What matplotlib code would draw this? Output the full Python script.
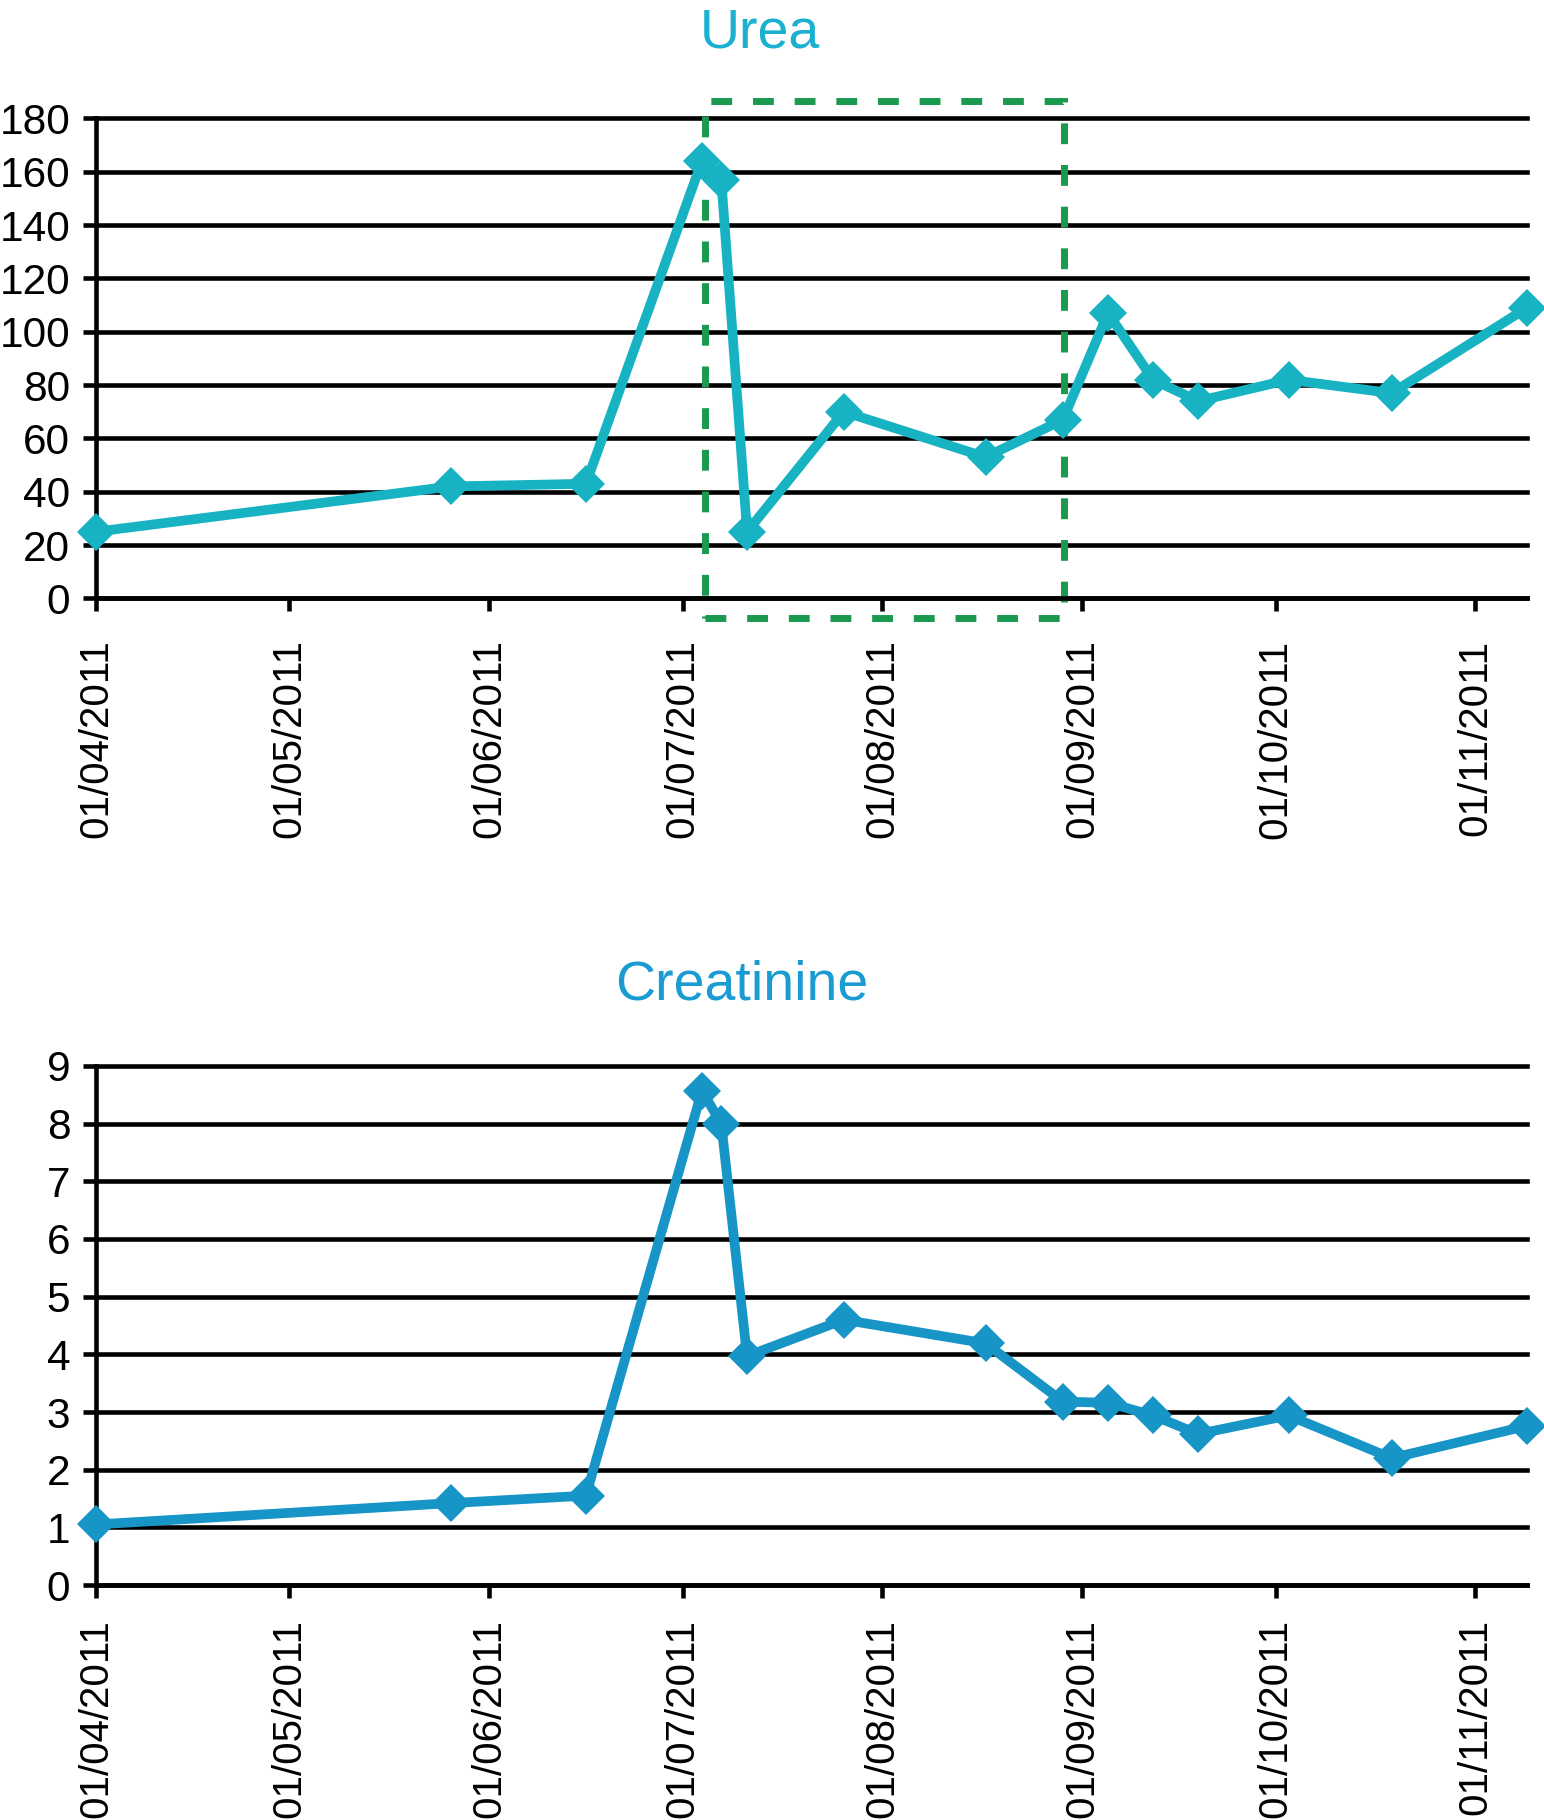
import numpy as np
import pandas as pd
import matplotlib as mpl
mpl.use("Agg")
import matplotlib.pyplot as plt
import matplotlib.dates as mdates
from matplotlib.patches import Rectangle

mpl.rcParams["font.family"] = ["Liberation Sans", "DejaVu Sans"]

# ---------------------------------------------------------------------------
# Data
# ---------------------------------------------------------------------------
dates = pd.to_datetime([
    "2011-04-01", "2011-05-26", "2011-06-16", "2011-07-04", "2011-07-07",
    "2011-07-11", "2011-07-26", "2011-08-17", "2011-08-29", "2011-09-05",
    "2011-09-12", "2011-09-19", "2011-10-03", "2011-10-19", "2011-11-09",
])
urea = [25, 42, 43, 164, 157, 25, 70, 53, 67, 107, 82, 74, 82, 77, 109]
creatinine = [1.05, 1.42, 1.55, 8.57, 8.0, 3.97, 4.6, 4.19, 3.18, 3.16,
              2.94, 2.62, 2.94, 2.2, 2.76]

x_start = pd.Timestamp("2011-04-01")
x_end = pd.Timestamp("2011-11-09")
month_ticks = pd.date_range("2011-04-01", "2011-11-01", freq="MS")

# highlighted period (dashed box on the urea panel)
box_left = pd.Timestamp("2011-07-04 10:00")
box_right = pd.Timestamp("2011-08-29 04:00")
box_bottom, box_top = -7.3, 186.5

UREA_COLOR = "#17b3c3"
CREAT_COLOR = "#1795c6"
BOX_COLOR = "#199a4f"

FIG_W, FIG_H = 15.44, 18.20
DPI = 100
LW_AXIS = 3.3


def style_axis(ax, ymax, ystep, xpad):
    ax.set_xlim(x_start, x_end)
    ax.set_ylim(0, ymax)
    ax.set_yticks(np.arange(0, ymax + ystep / 2, ystep))
    ax.yaxis.grid(True, color="black", linewidth=LW_AXIS)
    for gl in ax.yaxis.get_gridlines():
        gl.set_clip_on(False)
    ax.set_axisbelow(True)
    for side in ("top", "right"):
        ax.spines[side].set_visible(False)
    for side in ("left", "bottom"):
        ax.spines[side].set_linewidth(LW_AXIS)
        ax.spines[side].set_color("black")
    ax.set_xticks(month_ticks)
    ax.xaxis.set_major_formatter(mdates.DateFormatter("%d/%m/%Y"))
    ax.tick_params(axis="x", direction="out", length=9.5, width=LW_AXIS,
                   labelsize=29, pad=xpad, labelrotation=90)
    ax.tick_params(axis="y", direction="out", length=9.5, width=LW_AXIS,
                   labelsize=30.5, pad=9)
    for lab in ax.get_xticklabels():
        lab.set_verticalalignment("top")
        lab.set_horizontalalignment("center")


fig = plt.figure(figsize=(FIG_W, FIG_H), dpi=DPI)

# Urea
ax1 = fig.add_axes([0.0622, 0.6712, 0.9268, 0.2637])
style_axis(ax1, 180, 20, xpad=20)
ax1.plot(dates, urea, color=UREA_COLOR, linewidth=7, marker="D",
         markersize=19, markeredgewidth=0, clip_on=False, zorder=3)
x0 = mdates.date2num(box_left)
x1 = mdates.date2num(box_right)
ax1.add_patch(Rectangle((x0, box_bottom), x1 - x0, box_top - box_bottom,
                        fill=False, edgecolor=BOX_COLOR, linewidth=5,
                        linestyle=(0, (3, 3)), clip_on=False, zorder=2))
fig.text(760 / 1544, 1 - 47 / 1820, "Urea", color="#1ab0cf", fontsize=40,
         ha="center", va="baseline")

# Creatinine
ax2 = fig.add_axes([0.0622, 0.1291, 0.9268, 0.2852])
style_axis(ax2, 9, 1, xpad=15)
ax2.plot(dates, creatinine, color=CREAT_COLOR, linewidth=7, marker="D",
         markersize=19, markeredgewidth=0, clip_on=False, zorder=3)
fig.text(742 / 1544, 1 - 999 / 1820, "Creatinine", color="#1a9bd1",
         fontsize=40, ha="center", va="baseline")

fig.savefig("out.png", dpi=DPI, facecolor="white")
